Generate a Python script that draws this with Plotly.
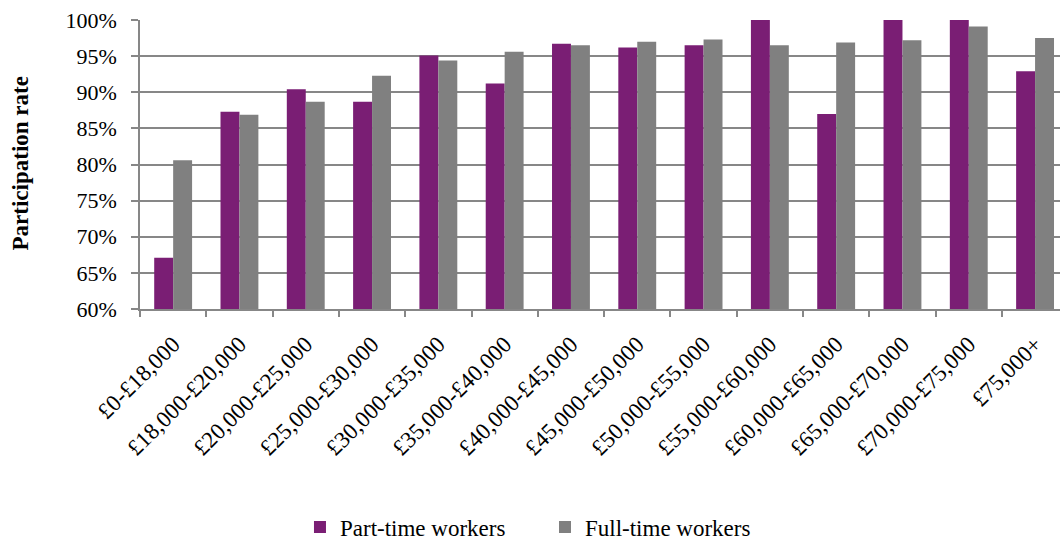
import plotly.graph_objects as go

categories = ["£0-£18,000", "£18,000-£20,000", "£20,000-£25,000", "£25,000-£30,000",
              "£30,000-£35,000", "£35,000-£40,000", "£40,000-£45,000", "£45,000-£50,000",
              "£50,000-£55,000", "£55,000-£60,000", "£60,000-£65,000", "£65,000-£70,000",
              "£70,000-£75,000", "£75,000+"]
part_time = [67.1, 87.3, 90.4, 88.7, 95.1, 91.2, 96.7, 96.2, 96.5, 100.0, 87.0, 100.0, 100.0, 92.9]
full_time = [80.6, 86.9, 88.7, 92.3, 94.4, 95.6, 96.5, 97.0, 97.3, 96.5, 96.9, 97.2, 99.1, 97.5]
y_ticks = [60, 65, 70, 75, 80, 85, 90, 95, 100]
y_tick_labels = ["60%", "65%", "70%", "75%", "80%", "85%", "90%", "95%", "100%"]

FONT = "Liberation Serif, Times New Roman, serif"
GRID = "#878787"

fig = go.Figure()
fig.add_trace(go.Bar(name="Part-time workers", x=categories, y=part_time,
                     marker=dict(color="#7A1E74", line=dict(width=0))))
fig.add_trace(go.Bar(name="Full-time workers", x=categories, y=full_time,
                     marker=dict(color="#808080", line=dict(width=0))))

fig.update_layout(
    width=1060, height=540, autosize=False,
    margin=dict(l=140, r=0, t=20, b=231),
    paper_bgcolor="white", plot_bgcolor="white",
    barmode="group", bargap=0.4286, bargroupgap=0,
    font=dict(family=FONT, size=22, color="#000000"),
    showlegend=True,
    legend=dict(orientation="h", xref="container", x=0.283, xanchor="left",
                yref="container", y=0.024, yanchor="middle",
                font=dict(family=FONT, size=23, color="#000000"), itemwidth=30,
                entrywidth=200, entrywidthmode="pixels"),
    annotations=[dict(text="<b>Participation rate</b>", xref="paper", yref="paper",
                      x=-0.130, y=0.505, textangle=-90, showarrow=False,
                      xanchor="center", yanchor="middle",
                      font=dict(family=FONT, size=23, color="#000000"))],
)

fig.update_xaxes(
    type="category", range=[-0.5, 13.376],
    tickangle=-45, ticks="outside", tickson="boundaries", ticklen=6,
    tickcolor=GRID, tickwidth=1.5, ticklabelstandoff=11,
    showline=True, linecolor=GRID, linewidth=1.5,
    showgrid=False, tickfont=dict(family=FONT, size=23, color="#000000"),
)
fig.update_yaxes(
    range=[60, 100], tickmode="array", tickvals=y_ticks, ticktext=y_tick_labels,
    ticks="outside", ticklen=7, tickcolor=GRID, tickwidth=1.5, ticklabelstandoff=10,
    showline=True, linecolor=GRID, linewidth=1.5,
    showgrid=True, gridcolor=GRID, gridwidth=1.5,
    zeroline=False, tickfont=dict(family=FONT, size=22, color="#000000"),
)

fig.write_html("out.html", config={"responsive": False, "displayModeBar": False},
               post_script="document.body.style.margin='0';document.body.style.overflow='hidden';")
